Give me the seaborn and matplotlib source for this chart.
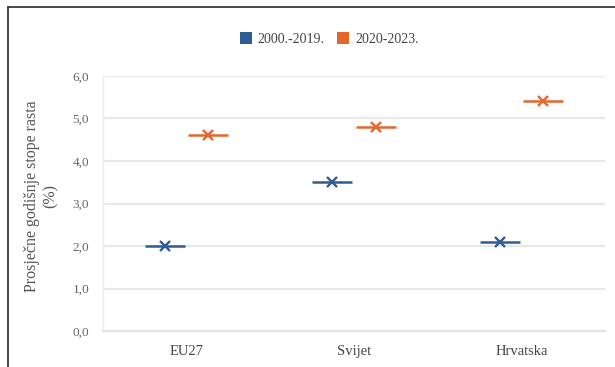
import matplotlib
matplotlib.use("Agg")
import matplotlib.pyplot as plt
from matplotlib.lines import Line2D
from matplotlib.patches import Patch
import seaborn as sns
import pandas as pd

regions = ["EU27", "Svijet", "Hrvatska"]
periods = ["2000.-2019.", "2020-2023."]
growth_2000_2019 = [2.0, 3.5, 2.1]
growth_2020_2023 = [4.6, 4.8, 5.4]
y_ticks = [0.0, 1.0, 2.0, 3.0, 4.0, 5.0, 6.0]
y_label = "Prosječne godišnje stope rasta\n(%)"

colors = {"2000.-2019.": "#2F5D8F", "2020-2023.": "#E5672E"}

df = pd.DataFrame({
    "Regija": regions * 2,
    "Razdoblje": [periods[0]] * 3 + [periods[1]] * 3,
    "Stopa": growth_2000_2019 + growth_2020_2023,
})

sns.set_theme(style="white")
plt.rcParams["font.family"] = ["Liberation Serif", "DejaVu Serif"]

fig = plt.figure(figsize=(6.15, 3.67), dpi=100)
ax = fig.add_axes([0.1675, 0.098, 0.8165, 0.695])

common = dict(data=df, x="Regija", y="Stopa", hue="Razdoblje", order=regions,
              hue_order=periods, palette=colors, dodge=0.26, errorbar=None,
              linestyle="none", ax=ax, legend=False)
# horizontal dash for each value
sns.pointplot(markers="_", markersize=29, markeredgewidth=1.8, **common)
# cross marker on top
sns.pointplot(markers="x", markersize=6.5, markeredgewidth=1.7, **common)

ax.set_ylim(0, 6)
ax.set_xlim(-0.5, 2.5)
ax.set_yticks(y_ticks)
ax.set_yticklabels([f"{v:.1f}".replace(".", ",") for v in y_ticks])
ax.yaxis.grid(True, color="#E8E8E8", linewidth=1.6)
ax.set_axisbelow(True)
for side in ["top", "right"]:
    ax.spines[side].set_visible(False)
ax.spines["left"].set_color("#EDEDED")
ax.spines["left"].set_linewidth(1.0)
ax.spines["bottom"].set_color("#E3E3E3")
ax.spines["bottom"].set_linewidth(1.6)
ax.tick_params(axis="y", colors="#666666", labelsize=9.5, length=0, pad=10)
ax.tick_params(axis="x", colors="#444444", labelsize=10.5, length=0, pad=10)
ax.set_xlabel("")
ax.set_ylabel(y_label, fontsize=11.5, color="#555555", linespacing=1.2)
ax.yaxis.set_label_coords(-0.089, 0.53)

handles = [Patch(facecolor=colors[p], edgecolor="none") for p in periods]
fig.legend(handles, periods, loc="center", bbox_to_anchor=(0.535, 0.893), ncol=2,
           frameon=False, fontsize=10, handlelength=0.9, handleheight=0.9,
           handletextpad=0.4, columnspacing=0.9, labelcolor="#444444")

# outer frame (left and top edges)
fig.add_artist(Line2D([0.013, 0.013], [0.0, 0.981], transform=fig.transFigure,
                      color="#3A3A3A", linewidth=1.3))
fig.add_artist(Line2D([0.013, 1.0], [0.981, 0.981], transform=fig.transFigure,
                      color="#3A3A3A", linewidth=1.3))

fig.savefig("out.png", dpi=100, facecolor="white")
